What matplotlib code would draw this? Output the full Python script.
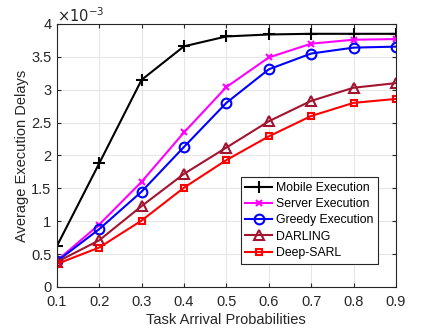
import numpy as np
import matplotlib
matplotlib.use('Agg')
import matplotlib.pyplot as plt

plt.rcParams['font.family'] = ['Liberation Sans', 'DejaVu Sans']

# Data (delays in units of 1e-3)
prob = [0.1, 0.2, 0.3, 0.4, 0.5, 0.6, 0.7, 0.8, 0.9]
mobile = [0.62, 1.88, 3.15, 3.66, 3.81, 3.84, 3.85, 3.85, 3.85]
server = [0.40, 0.95, 1.60, 2.35, 3.04, 3.49, 3.70, 3.76, 3.77]
greedy = [0.39, 0.88, 1.45, 2.13, 2.80, 3.31, 3.55, 3.64, 3.655]
darling = [0.38, 0.71, 1.23, 1.72, 2.12, 2.52, 2.83, 3.03, 3.10]
deep_sarl = [0.35, 0.60, 1.01, 1.51, 1.93, 2.29, 2.60, 2.80, 2.86]
labels = ['Mobile Execution', 'Server Execution', 'Greedy Execution', 'DARLING', 'Deep-SARL']

fig = plt.figure(figsize=(4.37, 3.28), dpi=100)
ax = fig.add_axes([0.130, 0.125, 0.776, 0.802])

ax.plot(prob, mobile, color='black', marker='+', ms=8, mew=1.5, lw=1.5, label=labels[0])
ax.plot(prob, server, color='#FF00FF', marker='x', ms=5, mew=1.5, lw=1.5, label=labels[1])
ax.plot(prob, greedy, color='blue', marker='o', ms=7, mfc='none', mew=1.5, lw=1.5, label=labels[2])
ax.plot(prob, darling, color='#A2142F', marker='^', ms=7, mfc='none', mew=1.5, lw=1.5, label=labels[3])
ax.plot(prob, deep_sarl, color='red', marker='s', ms=5, mfc='none', mew=1.5, lw=1.5, label=labels[4])

ax.set_xlim(0.1, 0.9)
ax.set_ylim(0, 4)
ax.set_xticks(prob)
ax.set_xticklabels(['0.1', '0.2', '0.3', '0.4', '0.5', '0.6', '0.7', '0.8', '0.9'])
ax.set_yticks([0, 0.5, 1, 1.5, 2, 2.5, 3, 3.5, 4])
ax.set_yticklabels(['0', '0.5', '1', '1.5', '2', '2.5', '3', '3.5', '4'])
ax.grid(True, color='#e6e6e6', lw=0.8)
ax.set_axisbelow(True)
ax.tick_params(direction='in', top=True, right=True, labelsize=10.5, colors='#262626', length=3)
ax.tick_params(axis='x', pad=6)
ax.tick_params(axis='y', pad=4)
for s in ax.spines.values():
    s.set_color('#262626')
    s.set_linewidth(0.8)

ax.set_xlabel('Task Arrival Probabilities', fontsize=10.5, color='#262626', labelpad=3)
ax.set_ylabel('Average Execution Delays', fontsize=10.5, color='#262626', labelpad=1)
ax.text(0.0, 1.008, r'$\times10^{-3}$', transform=ax.transAxes, fontsize=10.5,
        color='#262626', ha='left', va='baseline')

leg = ax.legend(loc='lower right', bbox_to_anchor=(0.948, 0.088), fontsize=8.8,
                fancybox=False, framealpha=1, edgecolor='#262626', handlelength=2.2,
                handletextpad=0.3, borderpad=0.4, labelspacing=0.35, borderaxespad=0)
leg.get_frame().set_linewidth(0.8)

fig.savefig('out.png', dpi=100)
